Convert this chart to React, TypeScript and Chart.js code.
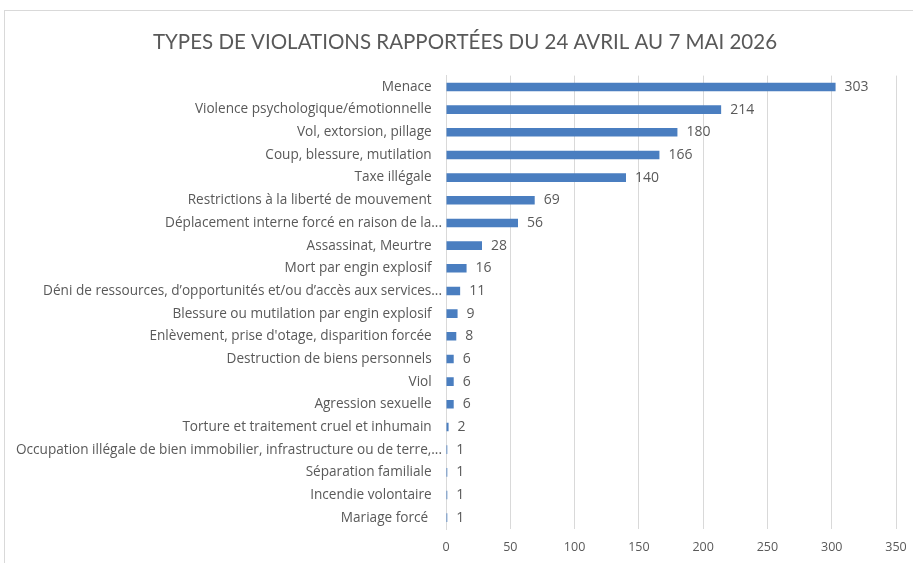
import React, { useEffect, useRef } from "react";
import { Chart, registerables } from "chart.js";

Chart.register(...registerables);

const titleText = "TYPES DE VIOLATIONS RAPPORTÉES DU 24 AVRIL AU 7 MAI 2026";

const categories = [
  "Menace",
  "Violence psychologique/émotionnelle",
  "Vol, extorsion, pillage",
  "Coup, blessure, mutilation",
  "Taxe illégale",
  "Restrictions à la liberté de mouvement",
  "Déplacement interne forcé en raison de la...",
  "Assassinat, Meurtre",
  "Mort par engin explosif",
  "Déni de ressources, d’opportunités et/ou d’accès aux services...",
  "Blessure ou mutilation par engin explosif",
  "Enlèvement, prise d'otage, disparition forcée",
  "Destruction de biens personnels",
  "Viol",
  "Agression sexuelle",
  "Torture et traitement cruel et inhumain",
  "Occupation illégale de bien immobilier, infrastructure ou de terre,...",
  "Séparation familiale",
  "Incendie volontaire",
  "Mariage forcé ",
];

const counts = [303, 214, 180, 166, 140, 69, 56, 28, 16, 11, 9, 8, 6, 6, 6, 2, 1, 1, 1, 1];

const xTicks = [0, 50, 100, 150, 200, 250, 300, 350];

const FONT = "'Open Sans', Lato, sans-serif";
const TITLE_FONT = "Lato, 'Open Sans', sans-serif";
const TEXT = "#595959";
const BAR = "#4A7EC0";

const valueLabels = {
  id: "valueLabels",
  afterDatasetsDraw(chart: any) {
    const ctx = chart.ctx;
    const meta = chart.getDatasetMeta(0);
    ctx.save();
    ctx.font = `14px ${FONT}`;
    ctx.fillStyle = TEXT;
    ctx.textAlign = "left";
    ctx.textBaseline = "middle";
    meta.data.forEach((bar: any, i: number) => {
      ctx.fillText(String(chart.data.datasets[0].data[i]), bar.x + 9, bar.y);
    });
    ctx.restore();
  },
};

// let the long category labels extend past the y scale box (no clipping)
const widenLabelArea = {
  id: "widenLabelArea",
  afterLayout(chart: any) {
    if (chart.scales.y) chart.scales.y.left = 0;
  },
};

export default function App() {
  const ref = useRef<HTMLCanvasElement>(null);
  useEffect(() => {
    if (!ref.current) return;
    const chart = new Chart(ref.current, {
      type: "bar",
      data: {
        labels: categories,
        datasets: [
          {
            data: counts,
            backgroundColor: BAR,
            barPercentage: 0.38,
            categoryPercentage: 1,
          },
        ],
      },
      options: {
        indexAxis: "y",
        animation: false,
        responsive: false,
        maintainAspectRatio: false,
        layout: { padding: { left: 30, right: 17, top: 0, bottom: 0 } },
        plugins: {
          legend: { display: false },
          tooltip: { enabled: false },
          title: {
            display: true,
            text: titleText,
            color: TEXT,
            font: { family: TITLE_FONT, size: 20.5, weight: "normal" },
            padding: { top: 30, bottom: 21 },
          },
        },
        scales: {
          x: {
            min: 0,
            max: 350,
            afterBuildTicks(scale: any) {
              scale.ticks = xTicks.map((v) => ({ value: v }));
            },
            grid: { color: "#d9d9d9", drawTicks: false, lineWidth: 1 },
            border: { display: false },
            ticks: { color: TEXT, font: { family: FONT, size: 12.5 }, padding: 11 },
            afterFit(scale: any) {
              scale.height = 34;
              scale.paddingLeft = 0;
              scale.paddingRight = 0;
            },
          },
          y: {
            grid: { display: false, drawTicks: false },
            border: { display: true, color: "#d9d9d9" },
            ticks: {
              color: TEXT,
              font: { family: FONT, size: 13.6 },
              padding: 4,
              autoSkip: false,
              callback(this: any, value: any) {
                const label = String(this.getLabelForValue(value));
                return label.endsWith("...") ? label : label + "\u2002 ";
              },
            },
            afterFit(scale: any) {
              scale.width = 412;
              scale.paddingTop = 0;
              scale.paddingBottom = 0;
            },
          },
        },
      },
      plugins: [valueLabels, widenLabelArea],
    });
    return () => chart.destroy();
  }, []);
  return (
    <div style={{ position: "fixed", left: 0, top: 0, width: 913, height: 563, background: "#fff", overflow: "hidden" }}>
      <div
        style={{
          position: "absolute",
          left: 4,
          top: 10,
          width: 930,
          height: 580,
          border: "1px solid #d9d9d9",
          boxSizing: "border-box",
        }}
      />
      <canvas ref={ref} width={909} height={563} style={{ position: "absolute", left: 4, top: 0, width: 909, height: 563 }} />
    </div>
  );
}
